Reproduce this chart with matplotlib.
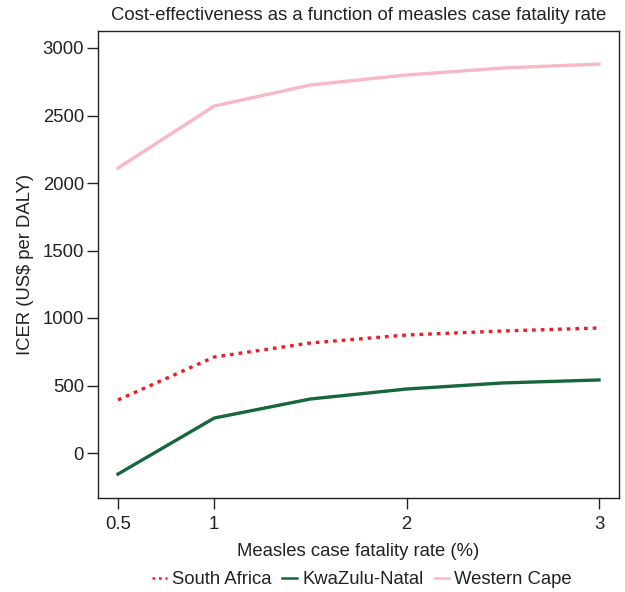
import matplotlib
matplotlib.use("Agg")
import matplotlib.pyplot as plt

plt.rcParams['font.family'] = ['Liberation Sans', 'DejaVu Sans']

cfr = [0.5, 1.0, 1.5, 2.0, 2.5, 3.0]
south_africa = [393, 711, 815, 874, 904, 926]
kwazulu_natal = [-156, 259, 400, 474, 519, 541]
western_cape = [2111, 2570, 2726, 2800, 2852, 2881]
xticks = [0.5, 1, 2, 3]
xtick_labels = ["0.5", "1", "2", "3"]
yticks = [0, 500, 1000, 1500, 2000, 2500, 3000]

FS = 13.3
TC = '#222222'

fig = plt.figure(figsize=(6.25, 5.92), dpi=100)
ax = fig.add_axes([98/625, 1 - 498/592, (619-98)/625, (498-31)/592])

ax.plot(cfr, south_africa, color='#ee1c25', lw=2.4, linestyle=(0, (1.1, 1.5)), label='South Africa')
ax.plot(cfr, kwazulu_natal, color='#16683a', lw=2.4, label='KwaZulu-Natal')
ax.plot(cfr, western_cape, color='#f8b8c6', lw=2.4, label='Western Cape')

ppx = (599 - 118) / 2.5
ax.set_xlim(0.5 - (118 - 98) / ppx, 3 + (619 - 599) / ppx)
ppu = (453 - 48) / 3000
ax.set_ylim(-(498 - 453) / ppu, 3000 + (48 - 31) / ppu)
ax.set_xticks(xticks)
ax.set_xticklabels(xtick_labels)
ax.set_yticks(yticks)
ax.tick_params(direction='out', length=8, width=1, labelsize=FS, colors=TC)
ax.tick_params(axis='y', pad=2)
ax.tick_params(axis='x', pad=5)
for s in ax.spines.values():
    s.set_color(TC)
    s.set_linewidth(1)

ax.set_title('Cost-effectiveness as a function of measles case fatality rate', fontsize=FS, pad=8, color=TC)
ax.set_xlabel('Measles case fatality rate (%)', fontsize=FS, labelpad=7, color=TC)
ax.set_ylabel('ICER (US$ per DALY)', fontsize=FS, labelpad=6, color=TC)

leg = fig.legend(loc='center', bbox_to_anchor=(362/625, 1 - 580/592), ncol=3, frameon=False,
                 fontsize=FS, handlelength=0.8, handletextpad=0.27, columnspacing=0.6,
                 labelcolor=TC)
for h in leg.legend_handles:
    h.set_linewidth(1.8)

fig.savefig('out.png', dpi=100)
